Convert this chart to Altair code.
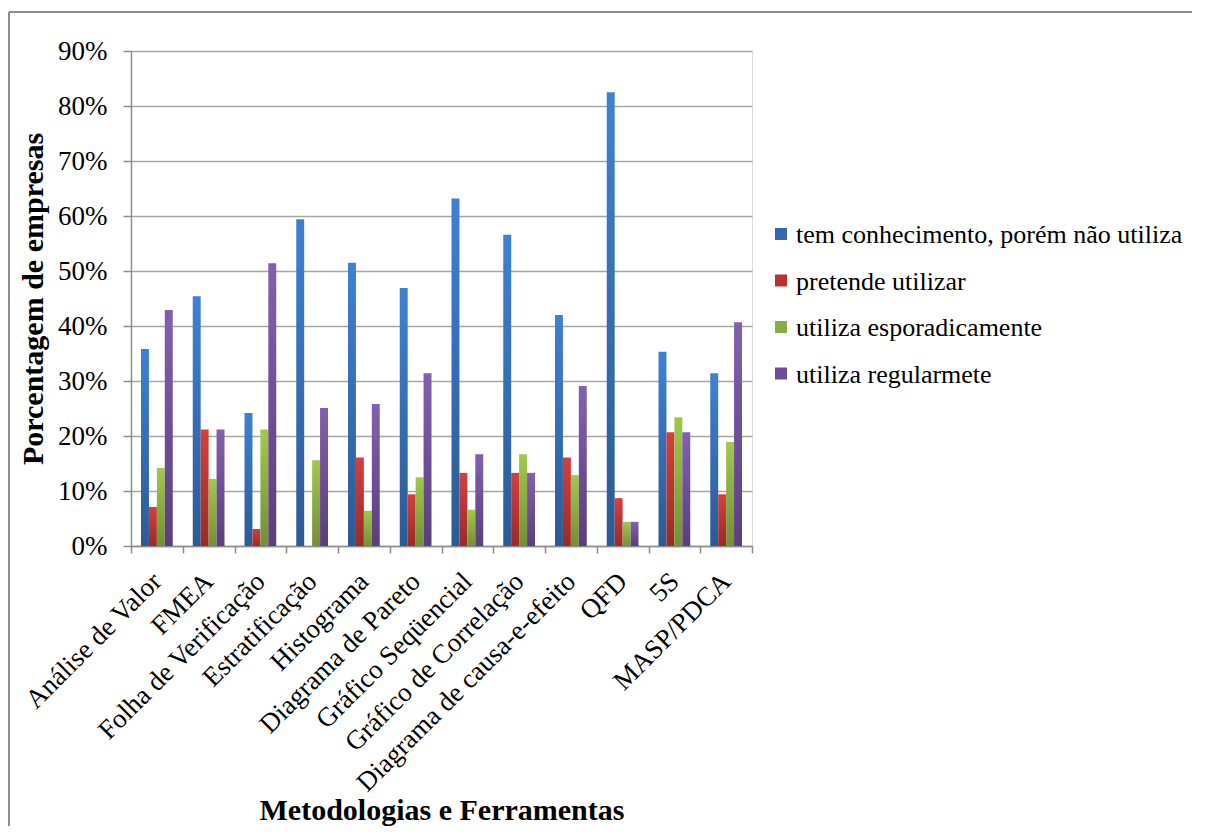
import altair as alt
import pandas as pd

categories = ["Análise de Valor", "FMEA", "Folha de Verificação", "Estratificação",
              "Histograma", "Diagrama de Pareto", "Gráfico Seqüencial",
              "Gráfico de Correlação", "Diagrama de causa-e-efeito", "QFD", "5S", "MASP/PDCA"]

series = ["tem conhecimento, porém não utiliza", "pretende utilizar",
          "utiliza esporadicamente", "utiliza regularmete"]

tem_conhecimento = [35.8, 45.4, 24.2, 59.4, 51.5, 46.9, 63.2, 56.6, 42.0, 82.5, 35.3, 31.4]
pretende_utilizar = [7.1, 21.2, 3.1, 0.0, 16.1, 9.4, 13.3, 13.3, 16.1, 8.7, 20.7, 9.4]
utiliza_esporad = [14.2, 12.2, 21.2, 15.6, 6.4, 12.5, 6.6, 16.7, 12.9, 4.4, 23.4, 18.9]
utiliza_regular = [42.9, 21.2, 51.4, 25.1, 25.8, 31.4, 16.7, 13.3, 29.1, 4.4, 20.7, 40.7]

flat_colors = ["#3566AE", "#B63330", "#89AD41", "#6C4D96"]
grad_colors = [("#3E81D3", "#2C5A95"), ("#D5403C", "#9A2A27"),
               ("#A0C94B", "#738F38"), ("#8260AF", "#5B3E7E")]

rows = []
for s, vals in zip(series, [tem_conhecimento, pretende_utilizar, utiliza_esporad, utiliza_regular]):
    for c, v in zip(categories, vals):
        rows.append({"cat": c, "serie": s, "valor": v})
df = pd.DataFrame(rows)
legend_df = pd.DataFrame({"serie": series})

FONT = "Liberation Serif"
W, H = 621, 495
PAD = {"left": 123, "top": 43, "right": 440, "bottom": 280}
INNER_RIGHT = W + PAD["right"]  # distance from plot origin to right edge of canvas

x_enc = alt.X("cat:N", sort=categories,
              scale=alt.Scale(paddingInner=0, paddingOuter=0),
              axis=alt.Axis(title="Metodologias e Ferramentas", labelAngle=-45,
                            labelAlign="right", labelBaseline="middle", labelPadding=24,
                            labelOverlap=False, labelLimit=0, labelFontSize=27,
                            labelFont=FONT, labelColor="black",
                            tickBand="extent", tickSize=7, tickColor="#8C8C8C",
                            tickWidth=1.5, domainColor="#8C8C8C", domainWidth=1.5,
                            titleFont=FONT, titleFontSize=30, titleFontWeight="bold",
                            titleColor="black", titleX=W / 2, titleY=273,
                            titleBaseline="alphabetic", titleAlign="center", grid=False))
xoff_enc = alt.XOffset("serie:N", sort=series,
                       scale=alt.Scale(domain=series, range=[10, 41.75],
                                       paddingOuter=0, paddingInner=0))
y_enc = alt.Y("valor:Q", stack=None,
              scale=alt.Scale(domain=[0, 90], nice=False),
              axis=alt.Axis(title="Porcentagem de empresas", values=list(range(0, 91, 10)),
                            labelExpr="datum.value + '%'", labelFontSize=27, labelFont=FONT,
                            labelColor="black", labelPadding=16, tickSize=8,
                            tickColor="#8C8C8C", tickWidth=1.5, domainColor="#8C8C8C",
                            domainWidth=1.5, grid=True, gridColor="#A6A6A6", gridWidth=1.5,
                            titleFont=FONT, titleFontSize=30, titleFontWeight="bold",
                            titleColor="black", titleAngle=-90, titleX=-98, titleY=H / 2,
                            titleAlign="center", titleBaseline="middle"))

color_scale = alt.Scale(domain=series, range=flat_colors)

bars = []
for s, (top, bottom) in zip(series, grad_colors):
    g = alt.Gradient(gradient="linear",
                     stops=[alt.GradientStop(color=top, offset=0),
                            alt.GradientStop(color=bottom, offset=1)],
                     x1=0, x2=0, y1=0, y2=1)
    bars.append(
        alt.Chart(df).transform_filter(alt.datum.serie == s)
        .mark_bar(fill=g).encode(x=x_enc, xOffset=xoff_enc, y=y_enc)
    )

# legend built from the series list (entries placed by a point scale)
leg_y = alt.Y("serie:N", sort=series,
              scale=alt.Scale(type="point", domain=series, range=[183, 322.5], padding=0),
              axis=None)
leg_sym = alt.Chart(legend_df).mark_square(size=144, opacity=1).encode(
    x=alt.value(650), y=leg_y,
    color=alt.Color("serie:N", scale=color_scale, legend=None),
)
leg_txt = alt.Chart(legend_df).mark_text(
    align="left", baseline="middle", font=FONT, fontSize=26, color="black", dy=1
).encode(x=alt.value(665), y=leg_y, text="serie:N")

frame_left = alt.Chart(legend_df).mark_rule(stroke="#8C8C8C", strokeWidth=1.5).encode(
    x=alt.value(-122), y=alt.value(-39), y2=alt.value(H + PAD["bottom"])
)
frame_top = alt.Chart(legend_df).mark_rule(stroke="#8C8C8C", strokeWidth=1.5).encode(
    x=alt.value(-122), x2=alt.value(INNER_RIGHT), y=alt.value(-39)
)

main = alt.layer(frame_left, frame_top, *bars)
legend = alt.layer(leg_sym, leg_txt)

chart = alt.layer(main, legend).resolve_scale(y="independent").properties(
    width=W, height=H,
    autosize=alt.AutoSizeParams(type="none"),
    padding=PAD,
).configure_view(stroke=None).configure(background="white", font=FONT)

chart.save("out.html", embed_options={"renderer": "svg", "actions": False})
